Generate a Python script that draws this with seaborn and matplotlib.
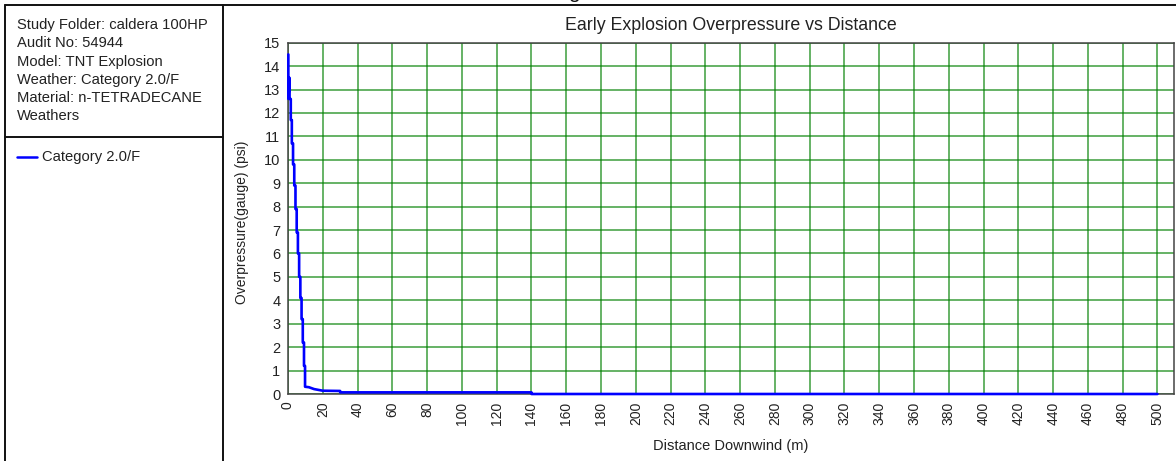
import numpy as np
import pandas as pd
import matplotlib
matplotlib.use("Agg")
import matplotlib.pyplot as plt
import seaborn as sns
from matplotlib.lines import Line2D

# Overpressure profile (distance downwind in m, gauge overpressure in psi)
distance_m = [0.2, 0.2, 0.9, 0.9, 1.6, 1.6, 2.2, 2.2, 2.9, 2.9, 3.6, 3.6,
              4.3, 4.3, 5.0, 5.0, 5.7, 5.7, 6.4, 6.4, 7.1, 7.1, 7.8, 7.8,
              8.5, 8.5, 9.2, 9.2, 9.8, 9.8, 12.0, 15.0, 20.0, 30.0, 30.0,
              140.0, 140.0, 500.0]
overpressure_psi = [14.5, 12.6, 13.5, 12.6, 12.6, 11.7, 11.7, 10.7, 10.7, 9.8,
                    9.8, 8.9, 8.9, 7.9, 7.9, 6.9, 6.9, 6.0, 6.0, 5.0, 5.0, 4.1,
                    4.1, 3.2, 3.2, 2.2, 2.2, 1.2, 1.2, 0.31, 0.29, 0.21, 0.14,
                    0.13, 0.07, 0.07, 0.0, 0.0]

x_ticks = list(range(0, 501, 20))
y_ticks = list(range(0, 16))

info_lines = ["Study Folder: caldera 100HP", "Audit No: 54944", "Model: TNT Explosion",
              "Weather: Category 2.0/F", "Material: n-TETRADECANE", "Weathers"]
series_label = "Category 2.0/F"
title = "Early Explosion Overpressure vs Distance"
x_label = "Distance Downwind (m)"
y_label = "Overpressure(gauge) (psi)"

sns.set_style("white")
plt.rcParams["font.family"] = ["Liberation Sans", "DejaVu Sans"]

W, H = 1176, 461
fig = plt.figure(figsize=(W / 100, H / 100), dpi=100)
TXT = "#222222"
GRID = "#008000"


def fx(px):
    return px / W


def fy(py):
    return 1 - py / H


# frame lines around the report area
fig.add_artist(Line2D([fx(5), fx(W)], [fy(5), fy(5)], color="#111111", lw=1.4))
fig.add_artist(Line2D([fx(5), fx(5)], [fy(5), fy(H)], color="#111111", lw=1.4))
fig.add_artist(Line2D([fx(223), fx(223)], [fy(5), fy(H)], color="#111111", lw=1.4))
fig.add_artist(Line2D([fx(5), fx(223)], [fy(137), fy(137)], color="#111111", lw=1.4))

# study info block
fig.text(fx(17), fy(18), "\n".join(info_lines), ha="left", va="top",
         fontsize=10.6, color=TXT, linespacing=1.39)

# legend entry
fig.add_artist(Line2D([fx(17), fx(37)], [fy(157), fy(157)], color="#0000ff", lw=1.8))
fig.text(fx(42), fy(157), series_label, ha="left", va="center", fontsize=10.6, color=TXT)

# partially visible page heading glyph
fig.text(fx(568), fy(-2), "g", ha="left", va="baseline", fontsize=15, color="#111111")

ax = fig.add_axes([fx(288), fy(394), fx(1174 - 288), (394 - 42.7) / H])

df = pd.DataFrame({"distance": distance_m, "overpressure": overpressure_psi})
sns.lineplot(data=df, x="distance", y="overpressure", ax=ax, sort=False,
             estimator=None, color="#0000ff", lw=1.9, zorder=5, clip_on=False)

ax.set_xlim(0, 509.5)
ax.set_ylim(0, 15)
ax.set_xticks(x_ticks)
ax.set_yticks(y_ticks)
ax.set_xticklabels([str(t) for t in x_ticks], rotation=90, fontsize=10, color=TXT)
ax.set_yticklabels([str(t) for t in y_ticks], fontsize=10.5, color=TXT)
ax.tick_params(axis="both", length=3.5, width=1, color="#3a9a3a", pad=2)
ax.grid(True, color=GRID, lw=1.2, alpha=0.7)
ax.set_axisbelow(True)
for s in ax.spines.values():
    s.set_color("#444444")
    s.set_linewidth(1.1)
    s.set_visible(True)
ax.set_xlabel("")
ax.set_ylabel("")

fig.text(fx(731), fy(25), title, ha="center", va="center", fontsize=12.8, color=TXT)
fig.text(fx(731), fy(446), x_label, ha="center", va="center", fontsize=10.5, color=TXT)
fig.text(fx(242), fy(222), y_label, ha="center", va="center", rotation=90,
         fontsize=10, color=TXT)

fig.savefig("out.png", dpi=100)
